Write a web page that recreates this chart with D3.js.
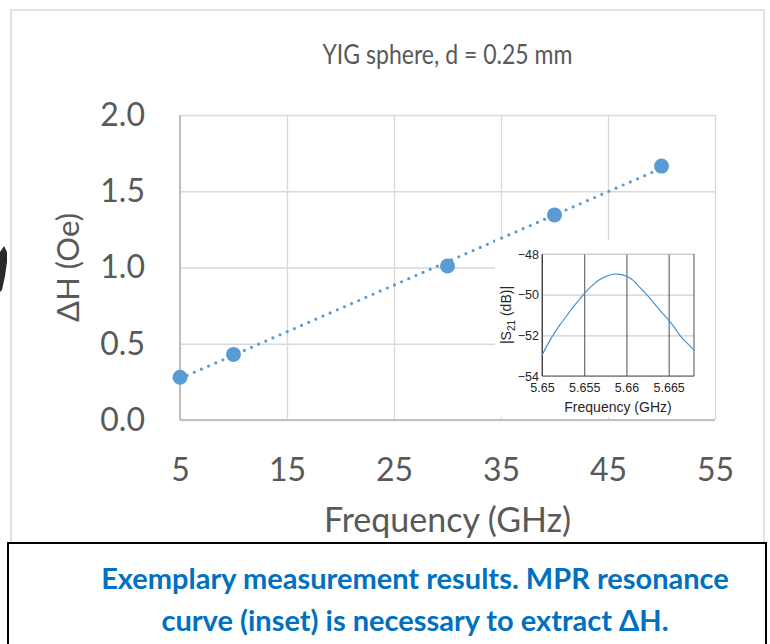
<!DOCTYPE html>
<html>
<head>
<meta charset="utf-8">
<script src="https://cdn.jsdelivr.net/npm/d3@7"></script>
<style>
  body { margin: 0; background: #fff; }
  svg { display: block; }
  .grid line { stroke: #d9d9d9; stroke-width: 1.3; }
  .main-axis text { font-family: Lato, sans-serif; fill: #595959; }
  .inset text { font-family: "Liberation Sans", Arial, sans-serif; fill: #262626; }
</style>
</head>
<body>
<div class="chart"></div>
<script>
// main chart data: linewidth vs frequency
const freqGHz = [5, 10, 30, 40, 50]
const deltaH = [0.28, 0.43, 1.01, 1.345, 1.665]
const xTicks = [5, 15, 25, 35, 45, 55]
const yTicks = [0, 0.5, 1.0, 1.5, 2.0]

// inset: |S21| resonance curve
const insetFreq = [5.6500, 5.6510, 5.6521, 5.6530, 5.6537, 5.6544, 5.6550, 5.6558, 5.6568, 5.6577, 5.6586, 5.6593, 5.6600, 5.6608, 5.6615, 5.6623, 5.6631, 5.6640, 5.6650, 5.6657, 5.6663, 5.6671, 5.6680]
const insetS21 = [-52.98, -52.2, -51.5, -51.0, -50.6, -50.25, -49.95, -49.6, -49.27, -49.08, -48.98, -49.0, -49.1, -49.3, -49.6, -49.95, -50.34, -50.78, -51.25, -51.62, -51.99, -52.35, -52.73]
const insetXTicks = [5.65, 5.655, 5.66, 5.665]
const insetYTicks = [-54, -52, -50, -48]

const W = 770, H = 644
const margin = {top: 115, right: 55, bottom: 224, left: 180}
const width = W - margin.left - margin.right
const height = H - margin.top - margin.bottom

const svg = d3.select('.chart').append('svg')
  .attr('width', W)
  .attr('height', H)

// outer chart area border
svg.append('rect')
  .attr('x', 11).attr('y', 10)
  .attr('width', 753).attr('height', 620)
  .attr('fill', 'none')
  .attr('stroke', '#d9d9d9')
  .attr('stroke-width', 1.5)

// bit of a neighbouring picture cut off at the left edge
svg.append('path')
  .attr('d', 'M0,252 L4,246 L7,252 L7,262 L5,276 L2,290 L0,292 Z')
  .attr('fill', '#2a2a2a')

const g = svg.append('g')
  .attr('transform', `translate(${margin.left},${margin.top})`)

const x = d3.scaleLinear().domain([5, 55]).range([0, width])
const y = d3.scaleLinear().domain([0, 2]).range([height, 0])

// vertical gridlines
g.append('g')
  .attr('class', 'grid')
  .attr('transform', `translate(0,${height})`)
  .call(d3.axisBottom(x).tickValues(xTicks).tickSize(-height).tickFormat(''))
  .call(g => g.select('.domain').remove())

// horizontal gridlines
g.append('g')
  .attr('class', 'grid')
  .call(d3.axisLeft(y).tickValues(yTicks).tickSize(-width).tickFormat(''))
  .call(g => g.select('.domain').remove())

// axis lines (left + bottom a bit darker)
g.append('line')
  .attr('x1', 0).attr('x2', 0).attr('y1', 0).attr('y2', height)
  .attr('stroke', '#bfbfbf').attr('stroke-width', 2)
g.append('line')
  .attr('x1', 0).attr('x2', width).attr('y1', height).attr('y2', height)
  .attr('stroke', '#bfbfbf').attr('stroke-width', 2)

// x axis labels
g.append('g')
  .attr('class', 'main-axis')
  .attr('transform', `translate(0,${height})`)
  .call(d3.axisBottom(x).tickValues(xTicks).tickSize(0).tickPadding(38).tickFormat(d3.format('d')))
  .call(g => g.select('.domain').remove())
  .selectAll('text')
  .style('font-size', '32px')

// y axis labels
g.append('g')
  .attr('class', 'main-axis')
  .call(d3.axisLeft(y).tickValues(yTicks).tickSize(0).tickPadding(35).tickFormat(d3.format('.1f')))
  .call(g => g.select('.domain').remove())
  .selectAll('text')
  .style('font-size', '32px')

// title
svg.append('text')
  .attr('x', margin.left + width / 2)
  .attr('y', 64)
  .attr('text-anchor', 'middle')
  .attr('textLength', 250)
  .attr('lengthAdjust', 'spacingAndGlyphs')
  .style('font-family', 'Lato, sans-serif')
  .style('font-size', '26px')
  .style('fill', '#595959')
  .text('YIG sphere, d = 0.25 mm')

// axis titles
svg.append('text')
  .attr('x', margin.left + width / 2)
  .attr('y', 532)
  .attr('text-anchor', 'middle')
  .style('font-family', 'Lato, sans-serif')
  .style('font-size', '34px')
  .style('fill', '#595959')
  .text('Frequency (GHz)')

svg.append('text')
  .attr('transform', `translate(79,${margin.top + height / 2}) rotate(-90)`)
  .attr('text-anchor', 'middle')
  .style('font-family', 'Lato, sans-serif')
  .style('font-size', '31px')
  .style('fill', '#595959')
  .text('ΔH (Oe)')

// linear trendline (least squares through the measured points)
const mx = d3.mean(freqGHz), my = d3.mean(deltaH)
const sxy = d3.sum(freqGHz, (f, i) => (f - mx) * (deltaH[i] - my))
const sxx = d3.sum(freqGHz, f => (f - mx) * (f - mx))
const slope = sxy / sxx
const icpt = my - slope * mx
const trend = d3.extent(freqGHz).map(f => [f, icpt + slope * f])

g.append('path')
  .datum(trend)
  .attr('fill', 'none')
  .attr('stroke', '#5b9bd5')
  .attr('stroke-width', 3.2)
  .attr('stroke-linecap', 'round')
  .attr('stroke-dasharray', '0 7.8')
  .attr('d', d3.line().x(d => x(d[0])).y(d => y(d[1])))

g.selectAll('.pt')
  .data(freqGHz)
  .join('circle')
  .attr('class', 'pt')
  .attr('cx', d => x(d))
  .attr('cy', (d, i) => y(deltaH[i]))
  .attr('r', 7.5)
  .attr('fill', '#5b9bd5')

// ---- inset (MATLAB style plot pasted on top) ----
svg.append('rect')
  .attr('x', 495).attr('y', 240)
  .attr('width', 220).attr('height', 177)
  .attr('fill', '#fff')

const inset = svg.append('g')
  .attr('class', 'inset')
  .attr('transform', 'translate(542,254)')
const iw = 152, ih = 122
const ix = d3.scaleLinear().domain([5.65, 5.668]).range([0, iw])
const iy = d3.scaleLinear().domain([-54, -48]).range([ih, 0])

// light horizontal grid
inset.append('g')
  .call(d3.axisLeft(iy).tickValues(insetYTicks).tickSize(-iw).tickFormat(''))
  .call(g => g.select('.domain').remove())
  .selectAll('line').attr('stroke', '#d0d0d0').attr('stroke-width', 1.2)

// dark vertical grid
inset.append('g')
  .attr('transform', `translate(0,${ih})`)
  .call(d3.axisBottom(ix).tickValues(insetXTicks).tickSize(-ih).tickFormat(''))
  .call(g => g.select('.domain').remove())
  .selectAll('line').attr('stroke', '#3a3a3a').attr('stroke-width', 0.9)

// frame
inset.append('line').attr('x1', 0).attr('x2', iw).attr('y1', 0).attr('y2', 0)
  .attr('stroke', '#d0d0d0').attr('stroke-width', 1.2)
inset.append('line').attr('x1', iw).attr('x2', iw).attr('y1', 0).attr('y2', ih)
  .attr('stroke', '#3a3a3a').attr('stroke-width', 0.9)
inset.append('line').attr('x1', 0).attr('x2', 0).attr('y1', 0).attr('y2', ih)
  .attr('stroke', '#3a3a3a').attr('stroke-width', 0.9)
inset.append('line').attr('x1', 0).attr('x2', iw).attr('y1', ih).attr('y2', ih)
  .attr('stroke', '#3a3a3a').attr('stroke-width', 0.9)

inset.append('g')
  .attr('transform', `translate(0,${ih})`)
  .call(d3.axisBottom(ix).tickValues(insetXTicks).tickSize(0).tickPadding(7).tickFormat(d => d3.format('.3~f')(d)))
  .call(g => g.select('.domain').remove())
  .selectAll('text').style('font-size', '12.5px')

inset.append('g')
  .call(d3.axisLeft(iy).tickValues(insetYTicks).tickSize(0).tickPadding(3).tickFormat(d3.format('d')))
  .call(g => g.select('.domain').remove())
  .selectAll('text').style('font-size', '12.5px')

inset.append('text')
  .attr('x', iw / 2).attr('y', ih + 36)
  .attr('text-anchor', 'middle')
  .style('font-size', '14px')
  .text('Frequency (GHz)')

const ylab = inset.append('text')
  .attr('transform', `translate(-31,${ih / 2}) rotate(-90)`)
  .attr('text-anchor', 'middle')
  .style('font-size', '14px')
ylab.append('tspan').text('|S')
ylab.append('tspan').attr('dy', 4).style('font-size', '10px').text('21')
ylab.append('tspan').attr('dy', -4).text(' (dB)|')

inset.append('path')
  .datum(insetFreq)
  .attr('fill', 'none')
  .attr('stroke', '#3d8ad0')
  .attr('stroke-width', 1.1)
  .attr('d', d3.line().x(d => ix(d)).y((d, i) => iy(insetS21[i])).curve(d3.curveMonotoneX))

// ---- caption box ----
svg.append('rect')
  .attr('x', 8).attr('y', 543)
  .attr('width', 758).attr('height', 120)
  .attr('fill', '#fff')
  .attr('stroke', '#000')
  .attr('stroke-width', 2)

const caption = ['Exemplary measurement results. MPR resonance', 'curve (inset) is necessary to extract ΔH.']
svg.selectAll('.cap')
  .data(caption)
  .join('text')
  .attr('class', 'cap')
  .attr('x', 415)
  .attr('y', (d, i) => 589 + i * 42)
  .attr('text-anchor', 'middle')
  .style('font-family', 'Lato, sans-serif')
  .style('font-weight', 'bold')
  .style('font-size', '29px')
  .style('fill', '#0070c0')
  .text(d => d)
</script>
</body>
</html>
